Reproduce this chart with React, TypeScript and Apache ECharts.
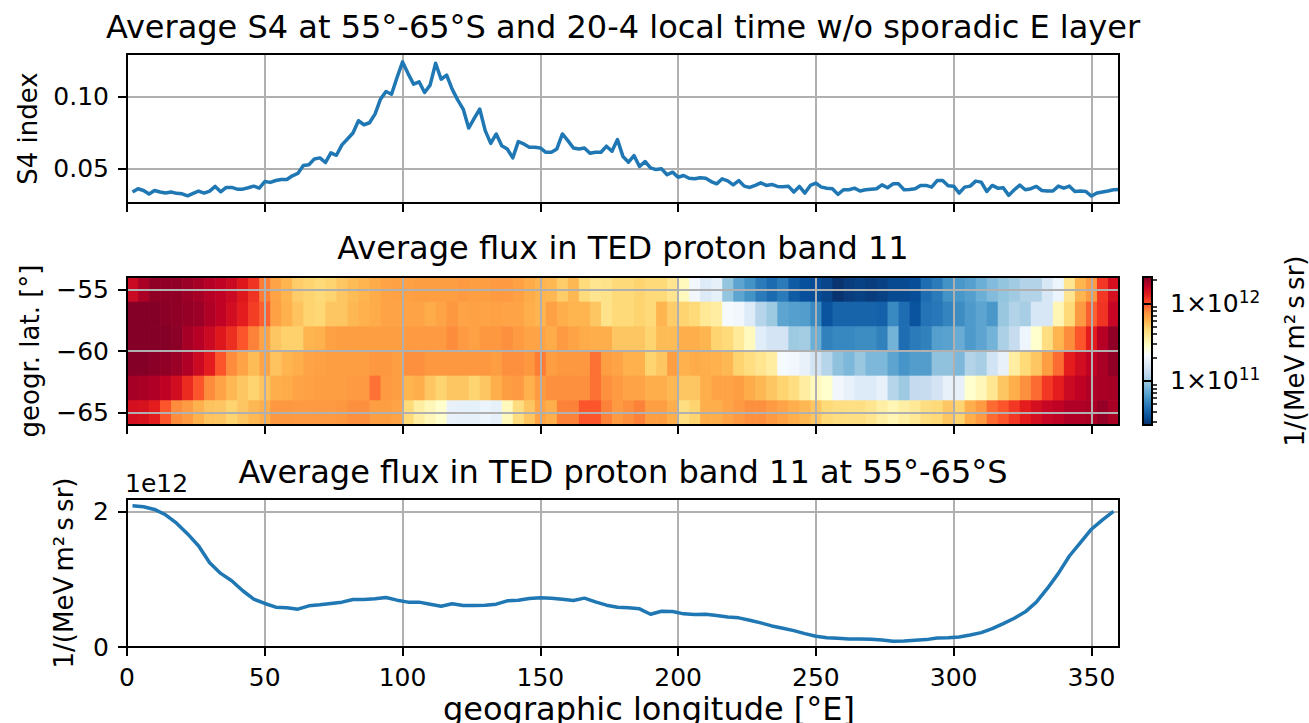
import { useEffect, useRef } from 'react';
import * as echarts from 'echarts';

const FONT = 'DejaVu Sans';

// S4 index, 2° longitude bins (centres 2..360)
const s4Index = [
  0.0339, 0.0362, 0.0350, 0.0325, 0.0350, 0.0339, 0.0332, 0.0339, 0.0330, 0.0327,
  0.0313, 0.0330, 0.0346, 0.0332, 0.0346, 0.0378, 0.0341, 0.0371, 0.0371, 0.0359,
  0.0359, 0.0369, 0.0380, 0.0366, 0.0412, 0.0406, 0.0419, 0.0426, 0.0426, 0.0452,
  0.0468, 0.0523, 0.0528, 0.0569, 0.0576, 0.0544, 0.0611, 0.0594, 0.0666, 0.0707,
  0.0749, 0.0834, 0.0806, 0.0820, 0.0880, 0.0984, 0.1037, 0.1018, 0.1134, 0.1242,
  0.1161, 0.1088, 0.1104, 0.1030, 0.1081, 0.1233, 0.1122, 0.1150, 0.1053, 0.0979,
  0.0915, 0.0783, 0.0850, 0.0915, 0.0765, 0.0677, 0.0742, 0.0661, 0.0638, 0.0576,
  0.0689, 0.0673, 0.0650, 0.0650, 0.0645, 0.0615, 0.0615, 0.0638, 0.0742, 0.0696,
  0.0645, 0.0638, 0.0645, 0.0608, 0.0615, 0.0615, 0.0657, 0.0622, 0.0703, 0.0585,
  0.0546, 0.0592, 0.0516, 0.0551, 0.0507, 0.0495, 0.0500, 0.0459, 0.0477, 0.0442,
  0.0454, 0.0435, 0.0431, 0.0438, 0.0435, 0.0412, 0.0396, 0.0431, 0.0417, 0.0389,
  0.0419, 0.0380, 0.0371, 0.0385, 0.0403, 0.0385, 0.0392, 0.0378, 0.0376, 0.0380,
  0.0339, 0.0378, 0.0332, 0.0385, 0.0401, 0.0373, 0.0366, 0.0362, 0.0323, 0.0355,
  0.0355, 0.0366, 0.0346, 0.0355, 0.0359, 0.0362, 0.0389, 0.0369, 0.0396, 0.0396,
  0.0355, 0.0357, 0.0362, 0.0385, 0.0385, 0.0373, 0.0419, 0.0419, 0.0382, 0.0380,
  0.0332, 0.0373, 0.0380, 0.0415, 0.0408, 0.0343, 0.0385, 0.0366, 0.0369, 0.0316,
  0.0355, 0.0387, 0.0355, 0.0362, 0.0378, 0.0350, 0.0346, 0.0346, 0.0380, 0.0366,
  0.0380, 0.0343, 0.0346, 0.0343, 0.0311, 0.0332, 0.0339, 0.0346, 0.0355, 0.0357,
];

// mean flux 55°-65°S, 4° longitude bins (centres 2..358), unit 1e12 /(MeV m² s sr)
const fluxMean = [
  2.084, 2.069, 2.030, 1.951, 1.827, 1.669, 1.491, 1.244, 1.086, 0.978,
  0.830, 0.706, 0.642, 0.588, 0.578, 0.558, 0.607, 0.622, 0.642, 0.662,
  0.701, 0.701, 0.711, 0.731, 0.691, 0.662, 0.662, 0.632, 0.602, 0.637,
  0.612, 0.612, 0.617, 0.632, 0.681, 0.691, 0.716, 0.726, 0.721, 0.706,
  0.686, 0.721, 0.667, 0.617, 0.588, 0.578, 0.563, 0.484, 0.528, 0.523,
  0.489, 0.479, 0.484, 0.464, 0.444, 0.430, 0.395, 0.356, 0.311, 0.277,
  0.242, 0.198, 0.158, 0.138, 0.128, 0.119, 0.119, 0.114, 0.104, 0.084,
  0.089, 0.099, 0.109, 0.133, 0.138, 0.148, 0.178, 0.212, 0.272, 0.346,
  0.425, 0.519, 0.662, 0.864, 1.086, 1.343, 1.541, 1.738, 1.877, 2.000,
];

// latitude bin centres (2° bins) of the flux map
const latCenters = [-55, -57, -59, -61, -63, -65];

// log10 of flux per cell, one row per latitude bin, 4° longitude bins (centres 2..358)
const logFluxLat55 = [
  12.19, 12.26, 12.31, 12.31, 12.31, 12.29, 12.27, 12.24, 12.22, 12.19,
  12.13, 12.06, 11.92, 11.82, 11.77, 11.70, 11.68, 11.66, 11.68, 11.72,
  11.75, 11.77, 11.80, 11.82, 11.83, 11.83, 11.84, 11.84, 11.84, 11.84,
  11.85, 11.84, 11.84, 11.85, 11.85, 11.83, 11.80, 11.77, 11.76, 11.70,
  11.76, 11.65, 11.60, 11.61, 11.66, 11.66, 11.68, 11.66, 11.66, 11.60,
  11.48, 11.30, 11.21, 11.25, 10.97, 10.84, 10.77, 10.69, 10.63, 10.69,
  10.58, 10.54, 10.53, 10.50, 10.44, 10.47, 10.49, 10.47, 10.49, 10.52,
  10.52, 10.53, 10.64, 10.69, 10.77, 10.79, 10.82, 10.88, 10.93, 10.97,
  11.00, 11.05, 11.05, 11.19, 11.28, 11.60, 11.77, 11.85, 12.05, 12.16,
];
const logFluxLat57 = [
  12.33, 12.33, 12.33, 12.32, 12.31, 12.30, 12.29, 12.25, 12.22, 12.17,
  12.11, 12.04, 11.97, 11.83, 11.78, 11.73, 11.68, 11.67, 11.72, 11.72,
  11.76, 11.78, 11.80, 11.82, 11.82, 11.82, 11.82, 11.80, 11.82, 11.86,
  11.82, 11.83, 11.82, 11.83, 11.82, 11.82, 11.79, 11.77, 11.83, 11.79,
  11.77, 11.77, 11.72, 11.61, 11.66, 11.66, 11.68, 11.66, 11.77, 11.70,
  11.68, 11.66, 11.58, 11.55, 11.32, 11.30, 11.21, 11.06, 10.99, 10.84,
  10.82, 10.81, 10.74, 10.55, 10.61, 10.61, 10.61, 10.61, 10.60, 10.74,
  10.64, 10.55, 10.66, 10.68, 10.72, 10.75, 10.80, 10.84, 10.79, 10.98,
  11.05, 11.02, 11.19, 11.19, 11.50, 11.66, 11.85, 11.97, 12.06, 12.20,
];
const logFluxLat59 = [
  12.33, 12.33, 12.33, 12.33, 12.32, 12.27, 12.24, 12.19, 12.13, 12.07,
  11.99, 11.91, 11.82, 11.72, 11.69, 11.69, 11.77, 11.78, 11.83, 11.84,
  11.84, 11.84, 11.84, 11.84, 11.84, 11.85, 11.85, 11.85, 11.85, 11.89,
  11.85, 11.83, 11.86, 11.86, 11.88, 11.85, 11.82, 11.82, 11.80, 11.85,
  11.82, 11.80, 11.79, 11.79, 11.72, 11.72, 11.72, 11.68, 11.75, 11.75,
  11.79, 11.79, 11.77, 11.68, 11.66, 11.57, 11.48, 11.23, 11.17, 11.17,
  10.99, 11.01, 10.88, 10.71, 10.73, 10.73, 10.75, 10.75, 10.71, 10.90,
  10.64, 10.69, 10.71, 10.82, 10.83, 10.87, 10.80, 10.84, 10.90, 11.03,
  11.11, 11.29, 11.44, 11.64, 11.77, 11.89, 11.99, 12.11, 12.24, 12.31,
];
const logFluxLat61 = [
  12.33, 12.33, 12.32, 12.31, 12.29, 12.25, 12.19, 12.11, 11.99, 11.89,
  11.82, 11.75, 11.82, 11.73, 11.77, 11.79, 11.82, 11.83, 11.84, 11.84,
  11.84, 11.84, 11.86, 11.86, 11.84, 11.88, 11.88, 11.86, 11.86, 11.86,
  11.86, 11.86, 11.86, 11.84, 11.88, 11.88, 11.86, 11.92, 11.84, 11.86,
  11.86, 11.86, 11.94, 11.84, 11.82, 11.78, 11.78, 11.68, 11.72, 11.84,
  11.78, 11.80, 11.79, 11.78, 11.76, 11.68, 11.64, 11.60, 11.55, 11.32,
  11.30, 11.26, 11.16, 11.06, 10.96, 10.92, 10.98, 10.92, 10.92, 10.84,
  10.78, 10.81, 10.81, 10.96, 10.96, 10.92, 11.05, 11.02, 11.16, 11.26,
  11.55, 11.66, 11.72, 11.84, 11.95, 12.11, 12.17, 12.22, 12.26, 12.31,
];
const logFluxLat63 = [
  12.27, 12.26, 12.25, 12.22, 12.17, 12.08, 11.99, 11.89, 11.82, 11.76,
  11.72, 11.68, 11.73, 11.79, 11.80, 11.82, 11.83, 11.84, 11.84, 11.84,
  11.85, 11.85, 11.94, 11.85, 11.84, 11.77, 11.79, 11.72, 11.68, 11.72,
  11.72, 11.68, 11.72, 11.79, 11.84, 11.85, 11.78, 11.85, 11.88, 11.88,
  11.88, 11.88, 11.94, 11.88, 11.85, 11.82, 11.82, 11.79, 11.79, 11.76,
  11.72, 11.72, 11.79, 11.82, 11.82, 11.84, 11.80, 11.76, 11.72, 11.68,
  11.64, 11.55, 11.48, 11.44, 11.30, 11.26, 11.21, 11.21, 11.26, 11.06,
  10.99, 11.10, 11.11, 11.17, 11.26, 11.26, 11.44, 11.49, 11.59, 11.72,
  11.79, 11.88, 11.95, 12.05, 12.11, 12.19, 12.22, 12.25, 12.26, 12.27,
];
const logFluxLat65 = [
  12.16, 12.15, 12.11, 11.99, 11.89, 11.85, 11.78, 11.73, 11.72, 11.68,
  11.72, 11.76, 11.79, 11.86, 11.86, 11.85, 11.85, 11.85, 11.85, 11.86,
  11.88, 11.88, 11.84, 11.84, 11.82, 11.66, 11.55, 11.49, 11.44, 11.26,
  11.25, 11.25, 11.28, 11.25, 11.48, 11.64, 11.72, 11.82, 11.79, 11.91,
  11.91, 11.99, 11.99, 11.91, 11.85, 11.88, 11.91, 11.84, 11.84, 11.79,
  11.64, 11.68, 11.79, 11.79, 11.82, 11.85, 11.88, 11.88, 11.85, 11.82,
  11.79, 11.76, 11.72, 11.66, 11.64, 11.63, 11.63, 11.60, 11.54, 11.50,
  11.54, 11.58, 11.64, 11.66, 11.72, 11.68, 11.79, 11.85, 11.95, 11.99,
  12.05, 12.11, 12.16, 12.20, 12.22, 12.25, 12.25, 12.26, 12.30, 12.26,
];
const logFluxRows = [logFluxLat55, logFluxLat57, logFluxLat59, logFluxLat61, logFluxLat63, logFluxLat65];

const lonTicks = [0, 50, 100, 150, 200, 250, 300, 350];
const s4Ticks = [0.05, 0.1];
const latTicks = [-65, -60, -55];
const fluxTicks = [0, 2];
const cbarMajor = [1e11, 1e12];
const cbarMinor = [3e10, 4e10, 5e10, 6e10, 7e10, 8e10, 9e10, 2e11, 3e11, 4e11, 5e11, 6e11, 7e11, 8e11, 9e11, 2e12];

const LOG_MIN = 10.43;
const LOG_MAX = 12.34;
const S4_STEP = 2;
const LON_STEP = 4;
const LAT_STEP = 2;

// Blues_r + YlOrRd
const CMAP = [
  '#08306b', '#08519c', '#2171b5', '#4292c6', '#6baed6', '#9ecae1', '#c6dbef', '#deebf7', '#f7fbff',
  '#ffffcc', '#ffeda0', '#fed976', '#feb24c', '#fd8d3c', '#fc4e2a', '#e31a1c', '#bd0026', '#800026',
];

const L = 127;
const W = 992;
const G = [
  { top: 54, height: 149 },
  { top: 277, height: 148 },
  { top: 499, height: 148 },
];
const CB = { left: 1143, top: 277, width: 9, height: 148 };

const minus = (v: number) => (v < 0 ? '\u2212' + Math.abs(v) : String(v));

export default function App() {
  const ref = useRef<HTMLDivElement>(null);
  useEffect(() => {
    const chart = echarts.init(ref.current!, undefined, { renderer: 'svg' });

    const s4Data = s4Index.map((v, i) => [(i + 1) * S4_STEP, v]);
    const fluxData = fluxMean.map((v, i) => [LON_STEP / 2 + i * LON_STEP, v]);
    const mapData: number[][] = [];
    logFluxRows.forEach((row, r) => {
      row.forEach((v, c) => mapData.push([LON_STEP / 2 + c * LON_STEP, latCenters[r], v]));
    });

    const lineAxis = { show: true, onZero: false, lineStyle: { color: '#000', width: 2 } };
    const tick = (vals: number[]) => ({ show: true, inside: false, length: 9, customValues: vals, lineStyle: { color: '#000', width: 2 } });
    const grid = { show: true, lineStyle: { color: '#b0b0b0', width: 2 } };
    const lbl = { color: '#000', fontSize: 25, fontFamily: FONT };

    const xAxes: any[] = [0, 1, 2].map((i) => ({
      type: 'value', gridIndex: i, min: 0, max: 360, interval: 50,
      axisLine: lineAxis, axisTick: tick(lonTicks), splitLine: grid,
      axisLabel: { ...lbl, show: i === 2, customValues: lonTicks, margin: 18 },
      z: i === 1 ? 3 : 0,
    }));
    xAxes.push({ type: 'value', gridIndex: 3, min: 0, max: 1, show: false });

    const yAxes: any[] = [
      {
        type: 'value', gridIndex: 0, min: 0.0263, max: 0.1297,
        axisLine: lineAxis, axisTick: tick(s4Ticks), splitLine: grid,
        axisLabel: { ...lbl, customValues: s4Ticks, margin: 18, formatter: (v: number) => v.toFixed(2) },
      },
      {
        type: 'value', gridIndex: 1, min: -66, max: -54, z: 3,
        axisLine: lineAxis, axisTick: tick(latTicks), splitLine: grid,
        axisLabel: { ...lbl, customValues: latTicks, margin: 18, formatter: (v: number) => minus(v) },
      },
      {
        type: 'value', gridIndex: 2, min: 0, max: 2.184,
        axisLine: lineAxis, axisTick: tick(fluxTicks), splitLine: grid,
        axisLabel: { ...lbl, customValues: fluxTicks, margin: 18, formatter: (v: number) => String(v) },
      },
      {
        type: 'value', gridIndex: 3, position: 'right', min: LOG_MIN, max: LOG_MAX, z: 10,
        axisLine: { show: false }, splitLine: { show: false },
        axisTick: tick(cbarMajor.map(Math.log10)),
        axisLabel: {
          ...lbl, customValues: cbarMajor.map(Math.log10), margin: 18,
          formatter: (v: number) => '{b|1×10}{s|' + Math.round(v) + '}',
          rich: {
            b: { fontSize: 25, fontFamily: FONT, color: '#000', lineHeight: 30 },
            s: { fontSize: 17, fontFamily: FONT, color: '#000', lineHeight: 18, verticalAlign: 'top' },
          },
        },
      },
      {
        type: 'value', gridIndex: 3, position: 'right', min: LOG_MIN, max: LOG_MAX, z: 10,
        axisLine: { show: false }, splitLine: { show: false }, axisLabel: { show: false },
        axisTick: { show: true, inside: false, length: 5, customValues: cbarMinor.map(Math.log10), lineStyle: { color: '#000', width: 1.5 } },
      },
    ];

    const frame = (top: number, height: number, left = L, width = W) => ({
      type: 'rect', silent: true, z: 100,
      shape: { x: left, y: top, width, height },
      style: { fill: 'none', stroke: '#000', lineWidth: 2 },
    });
    const txt = (text: string, x: number, y: number, fontSize: number, rot = 0) => ({
      type: 'text', silent: true, x, y, rotation: rot, z: 100,
      style: { text, fontSize, fontFamily: FONT, fill: '#000', align: 'center', verticalAlign: 'middle' },
    });

    const option: any = {
      animation: false,
      backgroundColor: '#fff',
      grid: [
        ...G.map((g) => ({ left: L, width: W, top: g.top, height: g.height, containLabel: false })),
        { left: CB.left, top: CB.top, width: CB.width, height: CB.height, containLabel: false },
      ],
      xAxis: xAxes,
      yAxis: yAxes,
      visualMap: {
        type: 'continuous', min: LOG_MIN, max: LOG_MAX, dimension: 2, seriesIndex: 1,
        inRange: { color: CMAP }, calculable: false, hoverLink: false,
        left: CB.left, top: CB.top, itemWidth: CB.width, itemHeight: CB.height,
        padding: 0, borderWidth: 0, z: 4,
      },
      series: [
        {
          type: 'line', xAxisIndex: 0, yAxisIndex: 0, data: s4Data, showSymbol: false, silent: true,
          lineStyle: { color: '#1f77b4', width: 3.5, join: 'round' },
        },
        {
          type: 'custom', xAxisIndex: 1, yAxisIndex: 1, data: mapData, clip: true, silent: true,
          encode: { x: 0, y: 1 },
          renderItem: (_p: any, api: any) => {
            const lon = api.value(0);
            const lat = api.value(1);
            const a = api.coord([lon - LON_STEP / 2, lat + LAT_STEP / 2]);
            const b = api.coord([lon + LON_STEP / 2, lat - LAT_STEP / 2]);
            return {
              type: 'rect',
              shape: { x: a[0], y: a[1], width: b[0] - a[0] + 0.6, height: b[1] - a[1] + 0.6 },
              style: { fill: api.visual('color') },
            };
          },
        },
        {
          type: 'line', xAxisIndex: 2, yAxisIndex: 2, data: fluxData, showSymbol: false, silent: true,
          lineStyle: { color: '#1f77b4', width: 3.5, join: 'round' },
        },
      ],
      graphic: [
        frame(G[0].top, G[0].height),
        frame(G[1].top, G[1].height),
        frame(G[2].top, G[2].height),
        frame(CB.top, CB.height, CB.left, CB.width),
        txt('Average S4 at 55°-65°S and 20-4 local time w/o sporadic E layer', L + W / 2, 27, 32),
        txt('Average flux in TED proton band 11', L + W / 2, 248, 32),
        txt('Average flux in TED proton band 11 at 55°-65°S', L + W / 2, 472, 32),
        txt('geographic longitude [°E]', 649, 709, 32),
        txt('S4 index', 28, G[0].top + G[0].height / 2, 26, Math.PI / 2),
        txt('geogr. lat. [°]', 30, G[1].top + G[1].height / 2, 26, Math.PI / 2),
        txt('1/(MeV\u2009m²\u2009s\u2009sr)', 64, G[2].top + G[2].height / 2, 26, Math.PI / 2),
        txt('1/(MeV\u2009m²\u2009s\u2009sr)', 1295, CB.top + CB.height / 2, 26, Math.PI / 2),
        {
          type: 'text', silent: true, x: 125, y: 483, z: 100,
          style: { text: '1e12', fontSize: 25, fontFamily: FONT, fill: '#000', align: 'left', verticalAlign: 'middle' },
        },
      ],
    };
    chart.setOption(option);
    return () => chart.dispose();
  }, []);
  return <div ref={ref} style={{ position: 'fixed', left: 0, top: 0, width: 1309, height: 723, background: '#fff' }} />;
}
